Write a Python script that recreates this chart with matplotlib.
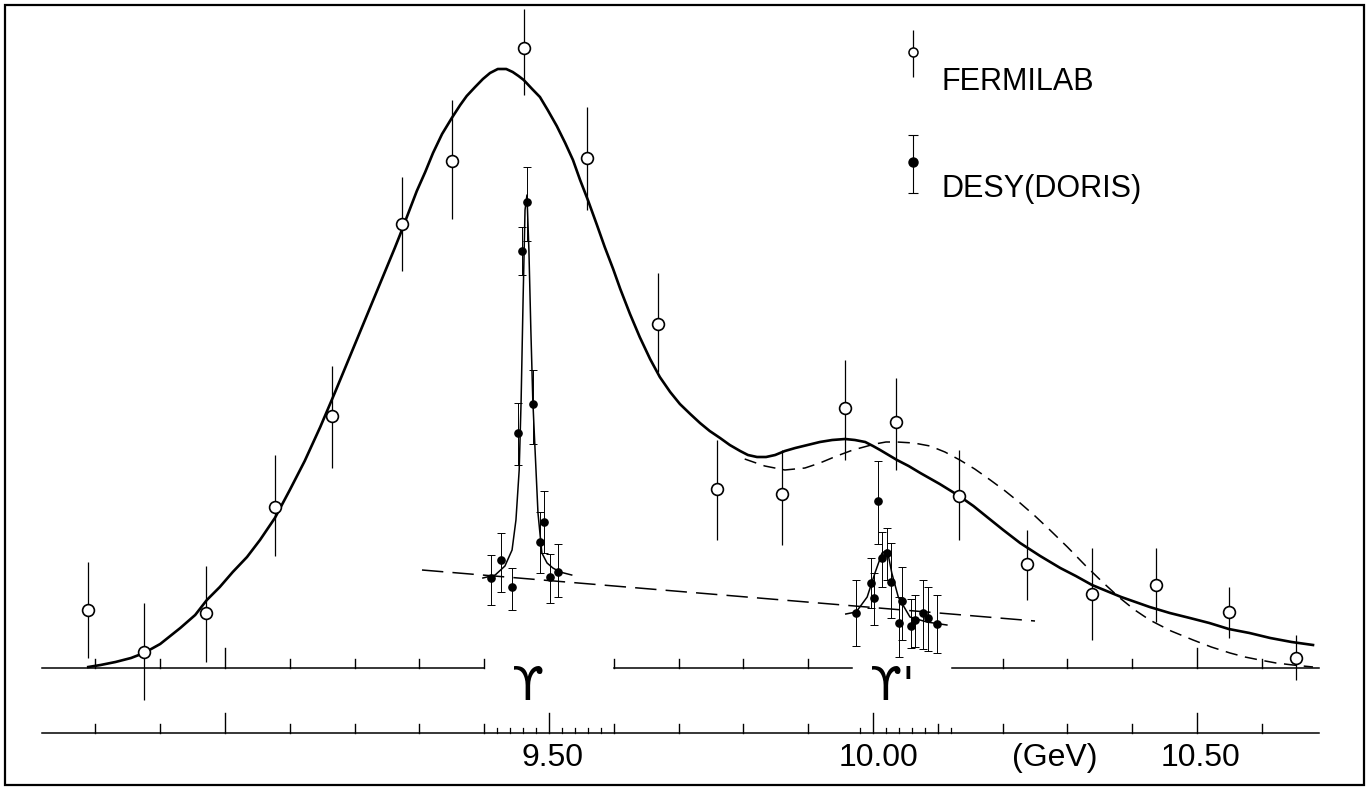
import numpy as np
import matplotlib
matplotlib.use("Agg")
import matplotlib.pyplot as plt

# Fermilab points (open circles): mass in GeV, yield (arb. units), errors
fnal_m = [8.789, 8.875, 8.971, 9.077, 9.165, 9.273, 9.350, 9.461, 9.559, 9.668,
          9.759, 9.860, 9.957, 10.035, 10.133, 10.238, 10.338, 10.437, 10.549, 10.653]
fnal_y = [5.8, 1.6, 5.5, 16.1, 25.2, 44.4, 50.7, 62.0, 51.0, 34.4,
          17.9, 17.4, 26.0, 24.6, 17.2, 10.4, 7.4, 8.3, 5.6, 1.0]
fnal_hi = [4.8, 4.9, 4.7, 5.2, 5.0, 4.7, 6.1, 3.9, 5.1, 5.1,
           4.9, 4.4, 4.8, 4.4, 4.6, 3.4, 4.6, 3.7, 2.5, 2.3]
fnal_lo = [4.8, 4.8, 4.9, 4.9, 5.2, 4.7, 5.8, 4.7, 5.2, 4.8,
           5.1, 5.1, 5.2, 4.8, 4.4, 3.6, 4.6, 3.7, 2.6, 2.2]

# DESY (DORIS) points (filled dots)
desy_m = [9.410, 9.426, 9.443, 9.452, 9.458, 9.466, 9.475, 9.486, 9.492, 9.502, 9.514,
          9.974, 9.997, 10.002, 10.008, 10.014, 10.022, 10.028, 10.040, 10.045,
          10.059, 10.065, 10.077, 10.085, 10.099]
desy_y = [9.0, 10.8, 8.1, 23.5, 41.7, 46.6, 26.4, 12.6, 14.6, 9.1, 9.6,
          5.5, 8.5, 7.0, 16.7, 11.0, 11.5, 8.6, 4.5, 6.7,
          4.2, 4.8, 5.5, 5.0, 4.4]
desy_hi = [2.3, 2.7, 1.9, 3.0, 2.4, 3.5, 3.4, 3.0, 3.1, 2.3, 2.8,
           3.3, 2.5, 2.5, 4.0, 2.6, 2.5, 3.9, 2.6, 3.4,
           2.7, 2.5, 3.3, 3.1, 2.9]
desy_lo = [2.7, 3.2, 2.3, 3.2, 2.4, 3.9, 4.0, 3.1, 3.1, 2.6, 2.5,
           3.3, 2.5, 2.7, 4.3, 2.9, 2.7, 3.6, 3.4, 3.9,
           2.2, 2.7, 3.6, 3.3, 2.9]

# fitted curves
fit_m = [8.789, 8.808, 8.831, 8.855, 8.875, 8.900, 8.931, 8.954, 8.972, 8.992,
         9.012, 9.034, 9.054, 9.077, 9.100, 9.123, 9.147, 9.170, 9.193, 9.216,
         9.239, 9.262, 9.270, 9.296, 9.309, 9.321, 9.335, 9.350, 9.363, 9.373,
         9.386, 9.398, 9.409, 9.421, 9.434, 9.444, 9.453, 9.461, 9.474, 9.486,
         9.498, 9.512, 9.525, 9.537, 9.548, 9.560, 9.574, 9.586, 9.599, 9.610,
         9.625, 9.640, 9.656, 9.671, 9.687, 9.702, 9.718, 9.733, 9.748, 9.764,
         9.779, 9.795, 9.807, 9.821, 9.835, 9.849, 9.864, 9.880, 9.899, 9.918,
         9.937, 9.957, 9.972, 9.988, 10.000, 10.011, 10.024, 10.037, 10.055, 10.073,
         10.103, 10.133, 10.155, 10.176, 10.201, 10.227, 10.258, 10.289, 10.313, 10.338,
         10.383, 10.427, 10.458, 10.489, 10.519, 10.549, 10.581, 10.613, 10.646, 10.679]
fit_y = [0.1, 0.3, 0.6, 1.0, 1.5, 2.4, 4.0, 5.3, 6.8, 8.1,
         9.6, 11.1, 12.8, 15.0, 17.8, 20.7, 24.1, 27.6, 31.2, 34.8,
         38.4, 42.0, 43.3, 47.7, 49.6, 51.5, 53.4, 55.0, 56.3, 57.2,
         58.1, 58.9, 59.5, 59.9, 59.9, 59.6, 59.2, 58.8, 57.9, 57.1,
         55.8, 54.2, 52.5, 50.8, 48.8, 46.8, 44.3, 42.1, 39.9, 37.9,
         35.4, 33.1, 30.9, 29.1, 27.6, 26.4, 25.4, 24.5, 23.7, 23.0,
         22.3, 21.7, 21.3, 21.1, 21.1, 21.3, 21.7, 22.0, 22.3, 22.6,
         22.8, 22.9, 22.8, 22.6, 22.2, 21.8, 21.3, 20.8, 20.2, 19.5,
         18.4, 17.2, 16.2, 15.1, 13.8, 12.5, 11.2, 10.0, 9.2, 8.3,
         7.1, 6.1, 5.5, 5.0, 4.5, 3.9, 3.5, 3.0, 2.6, 2.3]

alt_m = [9.802, 9.833, 9.864, 9.895, 9.918, 9.944, 9.969, 9.986, 10.003, 10.020,
         10.037, 10.063, 10.088, 10.111, 10.134, 10.157, 10.181, 10.204, 10.227, 10.250,
         10.273, 10.300, 10.327, 10.354, 10.381, 10.404, 10.427, 10.460, 10.494, 10.522,
         10.551, 10.574, 10.597, 10.622, 10.648, 10.679]
alt_y = [20.9, 20.2, 19.8, 20.0, 20.5, 21.2, 21.8, 22.1, 22.4, 22.6,
         22.6, 22.5, 22.2, 21.6, 20.8, 19.9, 18.8, 17.7, 16.5, 15.2,
         13.8, 12.1, 10.3, 8.6, 7.0, 5.8, 4.8, 3.7, 2.8, 2.1,
         1.5, 1.1, 0.8, 0.5, 0.3, 0.1]

ups1_m = [9.398, 9.417, 9.432, 9.443, 9.449, 9.454, 9.457, 9.460, 9.463, 9.466,
          9.469, 9.472, 9.475, 9.478, 9.483, 9.489, 9.497, 9.506, 9.517, 9.535]
ups1_y = [9.0, 9.3, 10.2, 11.8, 14.8, 19.8, 26.8, 36.8, 45.8, 47.3,
          41.8, 33.8, 26.8, 22.5, 15.5, 11.5, 10.5, 10.0, 9.6, 9.3]

ups2_m = [9.958, 9.974, 9.991, 10.003, 10.014, 10.022, 10.029, 10.039, 10.057, 10.083, 10.114]
ups2_y = [5.4, 5.6, 7.1, 9.5, 11.5, 11.8, 9.5, 7.1, 5.1, 4.6, 4.3]

bkg_m = [9.304, 10.250]
bkg_y = [9.8, 4.7]

tick_labels = ["9.50", "10.00", "(GeV)", "10.50"]
tick_label_m = [9.505, 10.009, 10.280, 10.505]

fonts = ["Liberation Sans Narrow", "Liberation Sans", "DejaVu Sans"]

fig = plt.figure(figsize=(13.71, 7.88), dpi=100)
ax = fig.add_axes([0, 0, 1, 1])
ax.set_xlim(8.6528, 10.7685)
ax.set_ylim(-12.0, 66.8)
ax.axis("off")

# frame
fig.patches.append(plt.Rectangle((5 / 1371, 3 / 788), 1359 / 1371, 780 / 788,
                                 transform=fig.transFigure, fill=False,
                                 edgecolor="black", linewidth=1.6))

# curves
ax.plot(fit_m, fit_y, color="black", lw=1.9, solid_joinstyle="round", zorder=3)
ax.plot(alt_m, alt_y, color="black", lw=1.1, dashes=(8, 5), zorder=3)
ax.plot(ups1_m, ups1_y, color="black", lw=1.1, zorder=3)
ax.plot(ups2_m, ups2_y, color="black", lw=1.1, zorder=3)
ax.plot(bkg_m, bkg_y, color="black", lw=1.1, dashes=(14, 6), zorder=3)

# data
ax.errorbar(fnal_m, fnal_y, yerr=[fnal_lo, fnal_hi], fmt="o", ms=8.5, mfc="white",
            mec="black", mew=1.2, ecolor="black", elinewidth=0.9, capsize=0, zorder=5)
ax.errorbar(desy_m, desy_y, yerr=[desy_lo, desy_hi], fmt="o", ms=5.2, mfc="black",
            mec="black", ecolor="black", elinewidth=0.7, capsize=3.0, capthick=0.7, zorder=6)

# upper axis with gaps for the resonance labels
y_up, y_low = 0.0, -6.5
for a, b in [(8.718, 9.40), (9.60, 9.968), (10.122, 10.688)]:
    ax.plot([a, b], [y_up, y_up], color="black", lw=1.1, zorder=2)
ax.plot([8.718, 10.688], [y_low, y_low], color="black", lw=1.1, zorder=2)

major = np.round(np.arange(8.8, 10.61, 0.1), 2)
for m in major:
    tall = 2.0 if np.isclose(m % 0.5, 0) or np.isclose(m % 0.5, 0.5) else 0.95
    ax.plot([m, m], [y_low, y_low + tall], color="black", lw=1.0)
    in_gap = (9.40 < m < 9.60) or (9.968 < m < 10.122)
    if not in_gap:
        ax.plot([m, m], [y_up, y_up + tall], color="black", lw=1.0)
fine = np.round(np.concatenate([np.arange(9.42, 9.59, 0.02), np.arange(9.98, 10.13, 0.02)]), 2)
for m in fine:
    if not np.any(np.isclose(m, major)):
        ax.plot([m, m], [y_low, y_low + 0.5], color="black", lw=0.9)

for lab, m in zip(tick_labels, tick_label_m):
    ax.text(m, -7.5, lab, ha="center", va="top", fontsize=23, family=fonts)

ax.text(9.468, -1.9, "\u03d2", ha="center", va="center", fontsize=33, family=["DejaVu Sans"])
ax.text(10.030, -1.9, "\u03d2'", ha="center", va="center", fontsize=33, family=["DejaVu Sans"])

# legend
ax.errorbar([10.062], [61.6], yerr=[[2.5], [2.2]], fmt="o", ms=6.5, mfc="white",
            mec="black", mew=1.1, ecolor="black", elinewidth=0.9, capsize=0)
ax.errorbar([10.062], [50.6], yerr=[[3.1], [2.7]], fmt="o", ms=6.5, mfc="black",
            mec="black", ecolor="black", elinewidth=0.8, capsize=3.5, capthick=0.8)
ax.text(10.106, 58.6, "FERMILAB", ha="left", va="center", fontsize=22, family=fonts)
ax.text(10.106, 47.9, "DESY(DORIS)", ha="left", va="center", fontsize=22, family=fonts)

fig.savefig("out.png", dpi=100)
